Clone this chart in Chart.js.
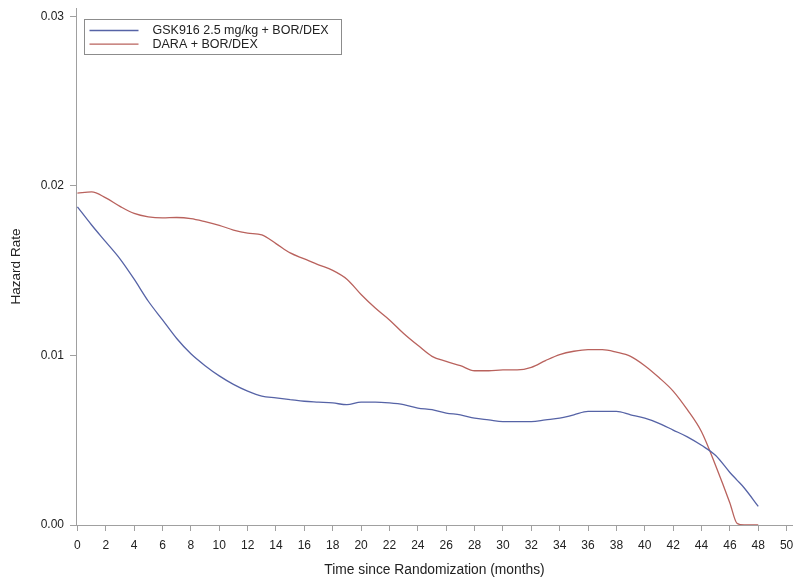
<!DOCTYPE html>
<html>
<head>
<meta charset="utf-8">
<script src="https://cdn.jsdelivr.net/npm/chart.js@4"></script>
<style>
  html, body { margin: 0; padding: 0; background: #ffffff; }
  canvas { display: block; }
</style>
</head>
<body>
<canvas id="hazard" width="793" height="579"></canvas>
<script>
// Smoothed hazard rate estimates by month since randomization
const months = [0,1,2,3,4,5,6,7,8,9,10,11,12,13,14,15,16,17,18,19,20,21,22,23,24,
  25,26,27,28,29,30,31,32,33,34,35,36,37,38,39,40,41,42,43,44,45,46,46.5,47,48];

const gskRate = [0.01877,0.0177,0.0167,0.0157,0.0145,0.0132,0.0121,0.0110,0.0101,0.0094,
  0.0088,0.0083,0.0079,0.0076,0.0075,0.0074,0.0073,0.00725,0.0072,0.0071,0.00725,0.00725,
  0.0072,0.0071,0.0069,0.0068,0.0066,0.0065,0.0063,0.0062,0.0061,0.0061,0.0061,0.0062,
  0.0063,0.0065,0.0067,0.0067,0.0067,0.0065,0.0063,0.0060,0.0056,0.0052,0.0047,0.0041,
  0.0031,0.00265,0.0022,0.0011];

const daraRate = [0.01958,0.01965,0.0193,0.0188,0.01838,0.01818,0.01812,0.01814,0.01808,
  0.0179,0.01768,0.0174,0.01722,0.01712,0.0166,0.01605,0.0157,0.01535,0.01502,0.0145,
  0.0136,0.0128,0.0121,0.0113,0.0106,0.00995,0.00965,0.0094,0.0091,0.0091,0.00915,0.00915,
  0.0093,0.0097,0.01005,0.01025,0.01035,0.01035,0.0102,0.00995,0.0094,0.0087,0.0079,
  0.0068,0.0055,0.0035,0.0013,0.0001,0.0,0.0];

const xTicks = [0,2,4,6,8,10,12,14,16,18,20,22,24,26,28,30,32,34,36,38,40,42,44,46,48,50];
const yTicks = [0, 0.01, 0.02, 0.03];

const seriesLabels = ['GSK916 2.5 mg/kg + BOR/DEX', 'DARA + BOR/DEX'];
const xTitle = 'Time since Randomization (months)';
const yTitle = 'Hazard Rate';

const BLUE = '#5663a6';
const RED = '#b9625d';
const AXIS = '#a0a0a0';
const FONT = "'Liberation Sans', Arial, sans-serif";

const toPoints = (xs, ys) => xs.map((x, i) => ({ x: x, y: ys[i] }));

// Boxed legend drawn in the upper-left corner of the plot area
const insetLegend = {
  id: 'insetLegend',
  afterDatasetsDraw(chart) {
    const ctx = chart.ctx;
    const area = chart.chartArea;
    const x0 = area.left + 8.5, y0 = area.top + 11.5;
    const w = 257, h = 35;
    ctx.save();
    ctx.fillStyle = '#ffffff';
    ctx.fillRect(x0, y0, w, h);
    ctx.strokeStyle = '#8c8c8c';
    ctx.lineWidth = 1;
    ctx.strokeRect(x0, y0, w, h);
    ctx.font = '12.5px ' + FONT;
    ctx.textBaseline = 'middle';
    chart.data.datasets.forEach((ds, i) => {
      const cy = y0 + 11 + i * 13.7;
      ctx.strokeStyle = ds.borderColor;
      ctx.lineWidth = 1.3;
      ctx.beginPath();
      ctx.moveTo(x0 + 5, cy);
      ctx.lineTo(x0 + 54, cy);
      ctx.stroke();
      ctx.fillStyle = '#222222';
      ctx.fillText(ds.label, x0 + 68, cy + 0.5);
    });
    ctx.restore();
  }
};

new Chart(document.getElementById('hazard'), {
  type: 'line',
  data: {
    datasets: [
      { label: seriesLabels[0], data: toPoints(months, gskRate), borderColor: BLUE,
        borderWidth: 1.3, pointRadius: 0, tension: 0.4, cubicInterpolationMode: 'monotone' },
      { label: seriesLabels[1], data: toPoints(months, daraRate), borderColor: RED,
        borderWidth: 1.3, pointRadius: 0, tension: 0.4, cubicInterpolationMode: 'monotone' }
    ]
  },
  options: {
    responsive: false,
    animation: false,
    layout: { padding: { top: 8, left: 3, right: 0, bottom: 0 } },
    plugins: { legend: { display: false }, tooltip: { enabled: false } },
    scales: {
      x: {
        type: 'linear',
        min: -0.1,
        max: 50.45,
        afterBuildTicks: (s) => { s.ticks = xTicks.map(v => ({ value: v })); },
        afterFit: (s) => { s.height = 54; s.paddingLeft = 0; s.paddingRight = 0; },
        grid: { drawOnChartArea: false, drawTicks: true, tickLength: 6, color: AXIS },
        border: { display: true, color: AXIS, width: 1 },
        ticks: { color: '#222222', font: { family: FONT, size: 12 }, padding: 7,
                 maxRotation: 0, autoSkip: false, callback: (v) => String(v) },
        title: { display: true, text: xTitle, color: '#222222',
                 font: { family: FONT, size: 13.8 }, padding: { top: 4, bottom: 1 } }
      },
      y: {
        type: 'linear',
        min: 0,
        max: 0.0305,
        afterBuildTicks: (s) => { s.ticks = yTicks.map(v => ({ value: v })); },
        afterFit: (s) => { s.width = 73; s.paddingTop = 0; s.paddingBottom = 0; },
        grid: { drawOnChartArea: false, drawTicks: true, tickLength: 6, color: AXIS },
        border: { display: true, color: AXIS, width: 1 },
        ticks: { color: '#222222', font: { family: FONT, size: 12 }, padding: 6,
                 callback: (v) => v.toFixed(2) },
        title: { display: true, text: yTitle, color: '#222222',
                 font: { family: FONT, size: 13.5 }, padding: { top: 5, bottom: 4 } }
      }
    }
  },
  plugins: [insetLegend]
});
</script>
</body>
</html>
